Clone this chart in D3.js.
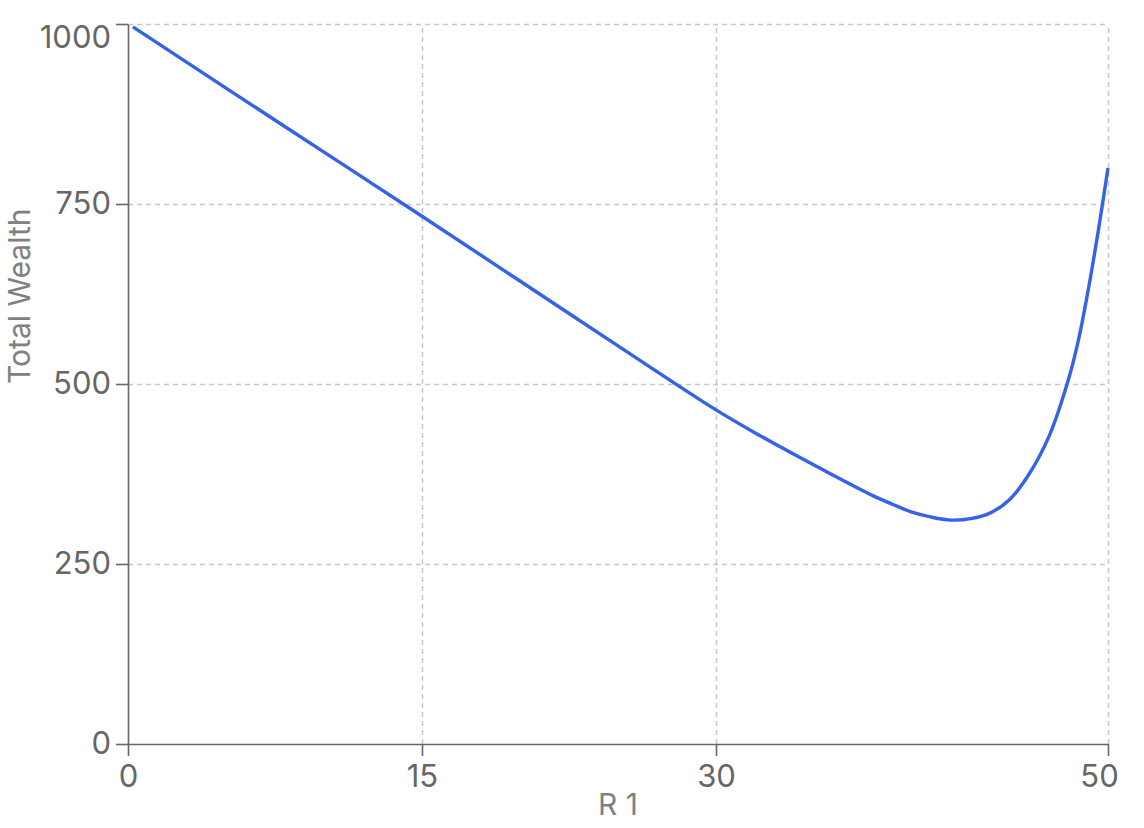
<!DOCTYPE html>
<html lang="en">
<head>
<meta charset="UTF-8">
<title>Total Wealth vs R 1</title>
<script src="https://d3js.org/d3.v7.min.js"></script>
<style>
  body { margin: 0; background: #fff; }
  svg { display: block; font-family: Inter, "Noto Sans", sans-serif; }
  .grid line { stroke: #c6c6c6; stroke-width: 1.5; stroke-dasharray: 5,4; }
  .grid path { display: none; }
  .axis path, .axis line { stroke: #666; stroke-width: 1.6; }
  .axis text { fill: #666; font-size: 31px; font-family: Inter, sans-serif; }
  .title { fill: #808080; font-size: 30px; font-family: Inter, sans-serif; }
  .curve { fill: none; stroke: #3563e7; stroke-width: 3.4; }
</style>
</head>
<body>
<script>
// values
const r1 = [0.25, 5, 10, 15, 20, 25, 30, 32, 34, 36, 38, 39, 40, 41, 42, 43, 44, 45, 46, 47, 48, 48.5, 49, 49.5, 50];
const wealth = [996, 911, 822, 733, 643, 553, 464, 432, 402, 373, 345, 333, 322, 315, 311, 313, 321, 340, 376, 428, 508, 562, 632, 712, 800];
const xTicks = [0, 15, 30, 50];
const yTicks = [0, 250, 500, 750, 1000];

const width = 1144, height = 828;
const margin = { top: 24, right: 36, bottom: 84, left: 128 };
const w = width - margin.left - margin.right;
const h = height - margin.top - margin.bottom;

const svg = d3.select("body").append("svg")
    .attr("width", width)
    .attr("height", height);

const g = svg.append("g")
    .attr("transform", `translate(${margin.left},${margin.top})`);

const x = d3.scaleLinear().domain([0, 50]).range([0, w]);
const y = d3.scaleLinear().domain([0, 1000]).range([h, 0]);

// dashed grid
g.append("g")
    .attr("class", "grid")
    .attr("transform", `translate(0,${h})`)
    .call(d3.axisBottom(x).tickValues(xTicks.filter(d => d > 0)).tickSize(-h).tickFormat(""));

g.append("g")
    .attr("class", "grid")
    .call(d3.axisLeft(y).tickValues(yTicks.filter(d => d > 0)).tickSize(-w).tickFormat(""));

// axes
const xAxis = g.append("g")
    .attr("class", "axis")
    .attr("transform", `translate(0,${h})`)
    .call(d3.axisBottom(x).tickValues(xTicks).tickSize(12).tickSizeOuter(0).tickPadding(7).tickFormat(d3.format("d")));

xAxis.selectAll(".tick text")
    .attr("dy", "0.76em")
    .filter(d => d === 50)
    .attr("x", -9);

const yAxis = g.append("g")
    .attr("class", "axis")
    .call(d3.axisLeft(y).tickValues(yTicks).tickSize(12).tickSizeOuter(0).tickPadding(5).tickFormat(d3.format("d")));

yAxis.selectAll(".tick text")
    .filter(d => d === 1000)
    .attr("y", 14);

// axis titles
g.append("text")
    .attr("class", "title")
    .attr("x", w / 2)
    .attr("y", h + 71)
    .attr("text-anchor", "middle")
    .text("R 1");

g.append("text")
    .attr("class", "title")
    .attr("transform", `translate(${30 - margin.left},${h / 2}) rotate(-90)`)
    .attr("text-anchor", "start")
    .text("Total Wealth");

// the line
const pts = r1.map((d, i) => [d, wealth[i]]);
g.append("path")
    .datum(pts)
    .attr("class", "curve")
    .attr("d", d3.line()
        .x(d => x(d[0]))
        .y(d => y(d[1]))
        .curve(d3.curveCatmullRom));
</script>
</body>
</html>
